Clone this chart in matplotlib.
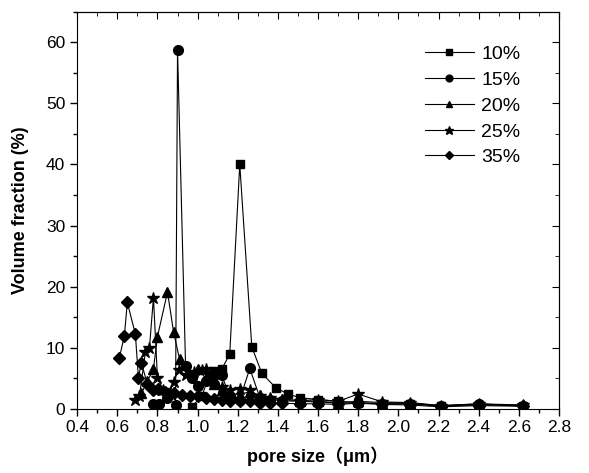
import matplotlib.pyplot as plt
from matplotlib.ticker import MultipleLocator

plt.rcParams['font.family'] = ['Liberation Sans', 'Noto Sans CJK SC', 'DejaVu Sans']

# pore size distributions for each porosity
x10 = [0.97, 1.02, 1.06, 1.08, 1.12, 1.16, 1.21, 1.27, 1.32, 1.39, 1.45, 1.51, 1.60, 1.70, 1.80, 1.92, 2.06, 2.21, 2.40, 2.62]
y10 = [0.3, 2.0, 5.5, 6.1, 6.5, 8.9, 40.0, 10.1, 5.8, 3.4, 2.4, 1.8, 1.5, 1.2, 1.0, 0.8, 0.8, 0.5, 0.6, 0.5]

x15 = [0.78, 0.81, 0.85, 0.89, 0.90, 0.94, 0.97, 1.00, 1.04, 1.08, 1.12, 1.16, 1.21, 1.26, 1.31, 1.36, 1.42, 1.51, 1.60, 1.70, 1.80, 1.92, 2.06, 2.21, 2.40, 2.62]
y15 = [0.8, 0.7, 1.7, 0.6, 58.8, 7.0, 5.0, 3.7, 4.5, 4.0, 5.5, 2.0, 1.5, 6.6, 1.8, 1.5, 1.3, 1.2, 1.1, 0.9, 0.9, 0.8, 0.8, 0.4, 0.8, 0.4]

x20 = [0.72, 0.75, 0.78, 0.80, 0.85, 0.88, 0.91, 0.95, 1.00, 1.04, 1.08, 1.12, 1.16, 1.21, 1.26, 1.31, 1.36, 1.42, 1.51, 1.60, 1.70, 1.80, 1.92, 2.06, 2.21, 2.40, 2.62]
y20 = [2.5, 4.5, 6.5, 11.8, 19.1, 12.6, 8.1, 6.0, 6.5, 5.0, 4.0, 3.0, 2.5, 2.3, 2.8, 2.2, 1.8, 1.6, 1.3, 1.2, 1.0, 1.2, 1.0, 0.9, 0.5, 0.7, 0.6]

x25 = [0.69, 0.71, 0.74, 0.76, 0.78, 0.80, 0.83, 0.86, 0.88, 0.905, 0.94, 0.98, 1.02, 1.04, 1.08, 1.12, 1.16, 1.21, 1.26, 1.31, 1.36, 1.42, 1.51, 1.60, 1.70, 1.80, 1.92, 2.06, 2.21, 2.40, 2.62]
y25 = [1.5, 2.0, 9.3, 9.9, 18.2, 5.0, 3.0, 2.5, 4.4, 6.3, 5.5, 6.0, 6.3, 6.5, 5.0, 3.5, 3.0, 3.2, 3.0, 2.0, 1.8, 1.5, 1.3, 1.5, 1.2, 2.4, 1.1, 1.0, 0.5, 0.8, 0.6]

x35 = [0.61, 0.635, 0.65, 0.69, 0.705, 0.72, 0.75, 0.78, 0.805, 0.84, 0.88, 0.92, 0.96, 1.00, 1.04, 1.08, 1.12, 1.16, 1.21, 1.26, 1.31, 1.36, 1.42, 1.51, 1.60, 1.70, 1.80, 1.92, 2.06, 2.21, 2.40, 2.62]
y35 = [8.3, 11.9, 17.4, 12.2, 5.1, 7.5, 4.0, 3.0, 3.2, 2.7, 2.5, 2.3, 2.1, 2.0, 1.8, 1.6, 1.5, 1.3, 1.2, 1.3, 1.0, 1.0, 0.9, 0.8, 0.8, 0.7, 0.9, 0.7, 0.6, 0.3, 0.5, 0.4]

labels = ['10%', '15%', '20%', '25%', '35%']
markers = ['s', 'o', '^', '*', 'D']
sizes = [6, 7, 7, 9, 6]

fig = plt.figure(figsize=(5.89, 4.73), dpi=100)
ax = fig.add_axes([0.131, 0.136, 0.818, 0.839])

series = [(x10, y10), (x15, y15), (x20, y20), (x25, y25), (x35, y35)]
for (xs, ys), lab, m, ms in zip(series, labels, markers, sizes):
    ax.plot(xs, ys, color='black', lw=0.8, marker=m, markersize=ms,
            markerfacecolor='black', markeredgecolor='black', label=lab)

ax.set_xlim(0.4, 2.8)
ax.set_ylim(0, 65)
ax.xaxis.set_major_locator(MultipleLocator(0.2))
ax.xaxis.set_minor_locator(MultipleLocator(0.1))
ax.yaxis.set_major_locator(MultipleLocator(10))
ax.yaxis.set_minor_locator(MultipleLocator(5))
ax.set_xticks([0.4 + 0.2 * i for i in range(13)])
ax.set_xticklabels(['%.1f' % (0.4 + 0.2 * i) for i in range(13)])
ax.tick_params(which='major', direction='out', length=5, width=1, labelsize=12.5)
ax.tick_params(which='minor', direction='out', length=3, width=1)

# inward ticks on top and right
top = ax.secondary_xaxis('top')
top.xaxis.set_major_locator(MultipleLocator(0.2))
top.xaxis.set_minor_locator(MultipleLocator(0.1))
top.tick_params(which='major', direction='in', length=5, labeltop=False)
top.tick_params(which='minor', direction='in', length=3)
right = ax.secondary_yaxis('right')
right.yaxis.set_major_locator(MultipleLocator(10))
right.yaxis.set_minor_locator(MultipleLocator(5))
right.tick_params(which='major', direction='in', length=5, labelright=False)
right.tick_params(which='minor', direction='in', length=3)

ax.set_xlabel('pore size（μm）', fontsize=13, fontweight='bold', labelpad=8)
ax.set_ylabel('Volume fraction (%)', fontsize=13, fontweight='bold', labelpad=12)

ax.legend(loc='upper left', bbox_to_anchor=(0.722, 0.915), frameon=False, fontsize=14,
          handlelength=2.5, handletextpad=0.4, labelspacing=0.42, borderpad=0,
          borderaxespad=0, markerscale=0.7)

fig.savefig('out.png', dpi=100)
